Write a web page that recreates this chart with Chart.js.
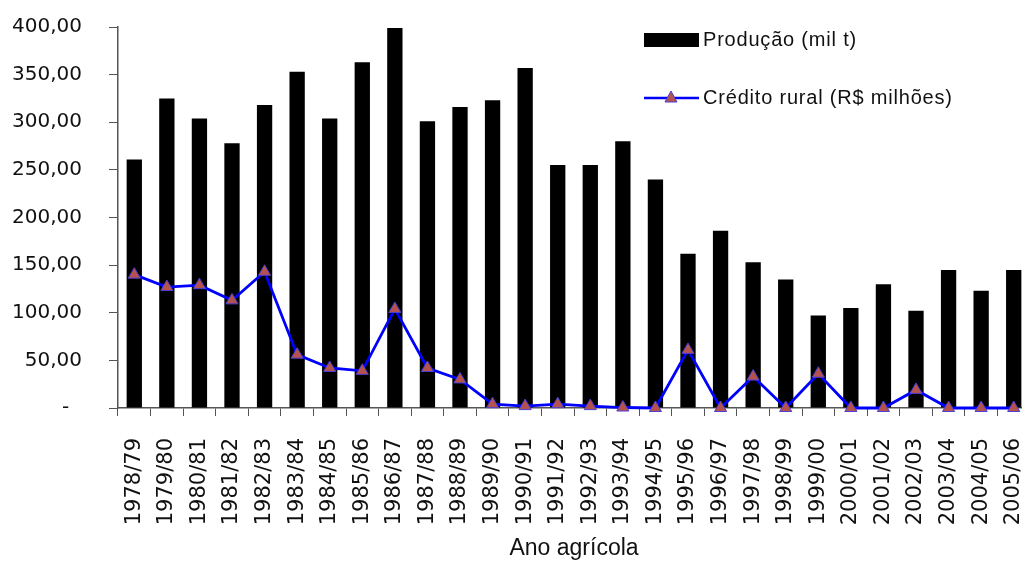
<!DOCTYPE html>
<html>
<head>
<meta charset="utf-8">
<script src="https://cdn.jsdelivr.net/npm/chart.js@4.4.0/dist/chart.umd.min.js"></script>
<style>
  html, body { margin: 0; padding: 0; background: #fff; }
  #wrap { width: 1022px; height: 562px; }
</style>
</head>
<body>
<div id="wrap"><canvas id="chart" width="1022" height="562"></canvas></div>
<script>
const categories = ['1978/79','1979/80','1980/81','1981/82','1982/83','1983/84','1984/85','1985/86','1986/87','1987/88',
  '1988/89','1989/90','1990/91','1991/92','1992/93','1993/94','1994/95','1995/96','1996/97','1997/98',
  '1998/99','1999/00','2000/01','2001/02','2002/03','2003/04','2004/05','2005/06'];
const producao = [261, 325, 304, 278, 318, 353, 304, 363, 399, 301,
  316, 323, 357, 255, 255, 280, 240, 162, 186, 153,
  135, 97, 105, 130, 102, 145, 123, 145];
const credito = [140, 127, 129, 113, 143, 56, 42, 39, 104, 42,
  30, 4, 2, 4, 2, 0.5, 0, 61, 0, 33,
  0, 36, 0, 0, 19, 0, 0, 0];
const seriesNames = ['Produção (mil t)', 'Crédito rural (R$ milhões)'];

// the plot in the original runs past the right edge of the picture
const stretchPlugin = {
  id: 'stretchRight',
  afterLayout(chart) {
    const x = chart.scales.x;
    x.right = 1030;
    x.width = x.right - x.left;
    chart.chartArea.right = 1030;
    chart.chartArea.width = chart.chartArea.right - chart.chartArea.left;
    x.configure();
  }
};

const legendPlugin = {
  id: 'customLegend',
  afterDraw(chart) {
    const ctx = chart.ctx;
    const bars = chart.data.datasets[1];
    const line = chart.data.datasets[0];
    ctx.save();
    ctx.font = '20px "Liberation Sans", Arial';
    ctx.letterSpacing = '0.8px';
    ctx.textBaseline = 'middle';
    // bar item
    ctx.fillStyle = bars.backgroundColor;
    ctx.fillRect(644, 33, 55, 14);
    ctx.fillStyle = '#111';
    ctx.fillText(bars.label, 703, 40);
    // line item
    ctx.strokeStyle = line.borderColor;
    ctx.lineWidth = 2.5;
    ctx.beginPath();
    ctx.moveTo(644, 98);
    ctx.lineTo(699, 98);
    ctx.stroke();
    ctx.fillStyle = line.pointBackgroundColor;
    ctx.strokeStyle = line.pointBorderColor;
    ctx.lineWidth = 1;
    ctx.beginPath();
    ctx.moveTo(671, 91);
    ctx.lineTo(677, 102);
    ctx.lineTo(665, 102);
    ctx.closePath();
    ctx.fill();
    ctx.stroke();
    ctx.fillStyle = '#111';
    ctx.fillText(line.label, 703, 98);
    ctx.restore();
  }
};

new Chart(document.getElementById('chart'), {
  type: 'bar',
  data: {
    labels: categories,
    datasets: [
      {
        type: 'line',
        label: seriesNames[1],
        data: credito,
        borderColor: '#0000ff',
        borderWidth: 2.8,
        pointStyle: 'triangle',
        pointRadius: 7,
        pointBackgroundColor: '#b5524e',
        pointBorderColor: '#4b3fd6',
        pointBorderWidth: 1,
        tension: 0,
        clip: false,
        order: 0
      },
      {
        type: 'bar',
        label: seriesNames[0],
        data: producao,
        backgroundColor: '#000000',
        barPercentage: 0.47,
        categoryPercentage: 1,
        clip: false,
        order: 1
      }
    ]
  },
  options: {
    responsive: false,
    animation: false,
    layout: { autoPadding: false, padding: { top: 27, right: 0, left: 0, bottom: 0 } },
    plugins: {
      legend: { display: false },
      tooltip: { enabled: false }
    },
    scales: {
      x: {
        offset: true,
        grid: { display: true, drawOnChartArea: false, offset: true, tickLength: 8, color: '#555', lineWidth: 1 },
        border: { color: '#555', width: 1.5 },
        ticks: { font: { family: 'DejaVu Sans', size: 21 }, color: '#111', minRotation: 90, maxRotation: 90, autoSkip: false, padding: 22 },
        title: { display: true, text: 'Ano agrícola', font: { family: '"Liberation Sans", Arial', size: 23 }, color: '#111', padding: { top: 0, bottom: 0 } },
        afterFit(scale) {
          scale.height = 154;
          scale.paddingLeft = 0;
          scale.paddingRight = 0;
        }
      },
      y: {
        min: 0,
        max: 400,
        grid: { display: true, drawOnChartArea: false, tickLength: 9, color: '#555' },
        border: { color: '#555', width: 1.5 },
        ticks: {
          stepSize: 50,
          font: { family: 'DejaVu Sans', size: 20 },
          color: '#111',
          padding: 27,
          callback: function (v) {
            if (v === 0) return '-  ';
            return v.toLocaleString('pt-BR', { minimumFractionDigits: 2, maximumFractionDigits: 2 });
          }
        },
        afterFit(scale) {
          scale.width = 118;
          scale.paddingTop = 0;
          scale.paddingBottom = 0;
        }
      }
    }
  },
  plugins: [stretchPlugin, legendPlugin]
});
</script>
</body>
</html>
